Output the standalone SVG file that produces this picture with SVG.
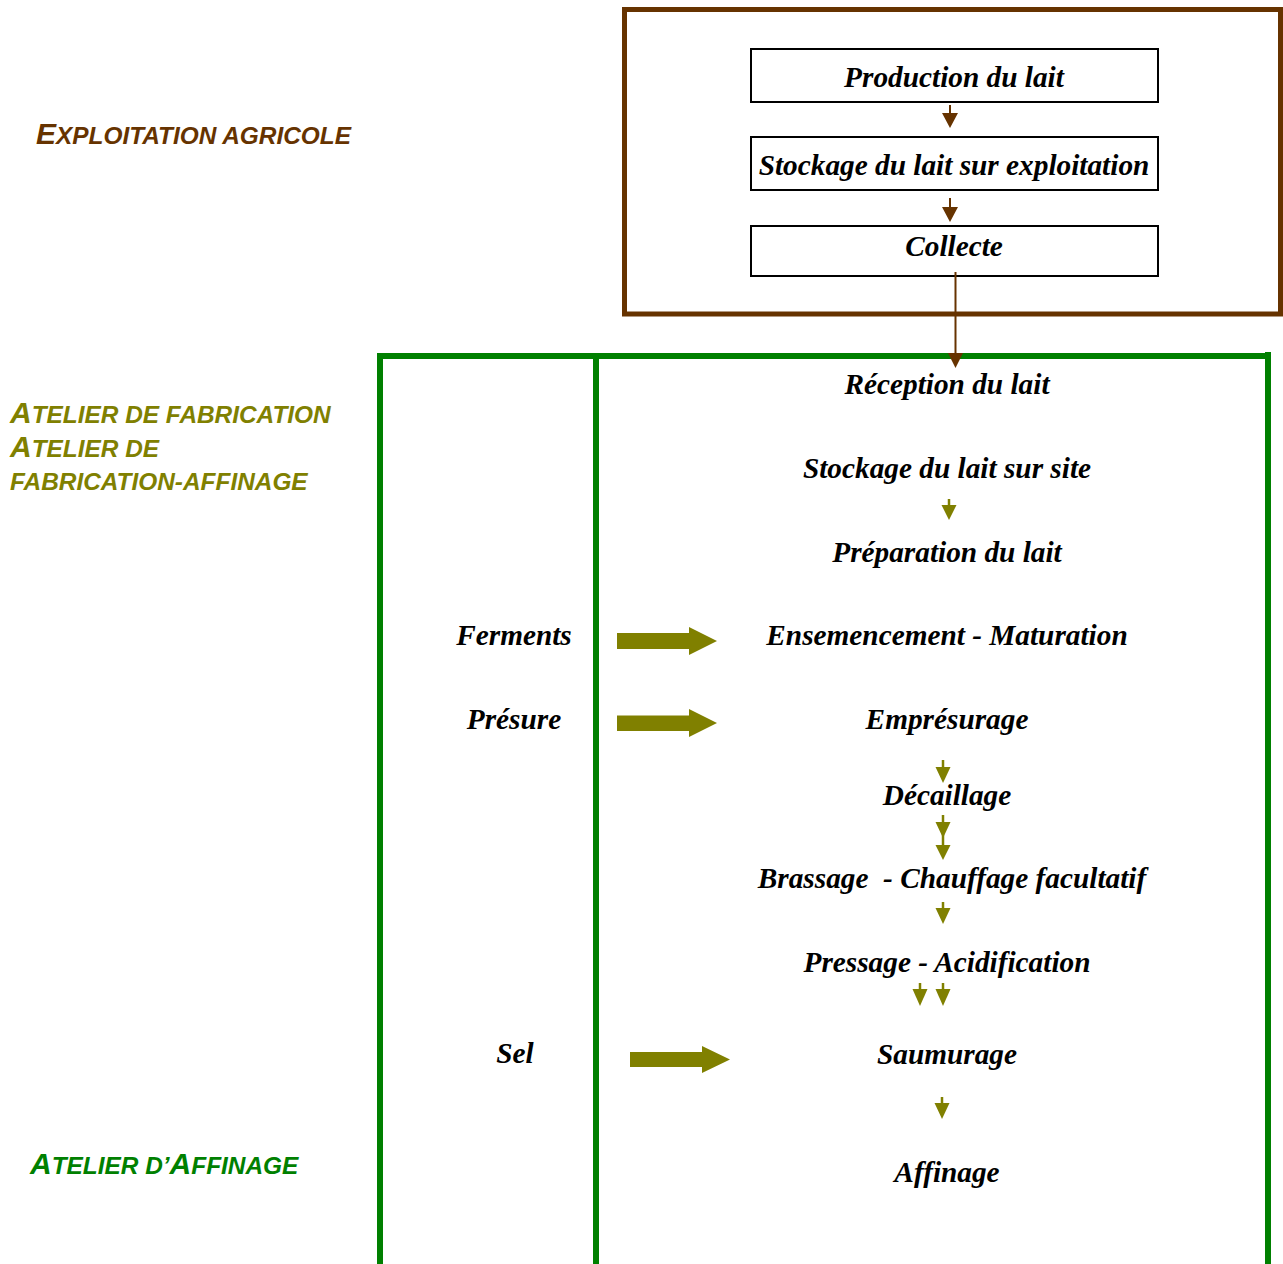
<svg xmlns="http://www.w3.org/2000/svg" width="1283" height="1264" viewBox="0 0 1283 1264">
<style>
.t{font-family:"Liberation Serif","Times New Roman",serif;font-weight:bold;font-style:italic;font-size:29.3px;fill:#000;text-anchor:middle}
.lab{font-family:"Liberation Sans",Arial,sans-serif;font-weight:bold;font-style:italic;font-size:24.4px}
.big{font-size:30px}
.box{fill:#fff;stroke:#000;stroke-width:2}
.brs{stroke:#663300;stroke-width:2;fill:none}
.brh{fill:#663300}
.ols{stroke:#808000;stroke-width:2.5;fill:none}
.olh{fill:#808000}
.grn{stroke:#008000;stroke-width:6;fill:none}
</style>
<rect width="1283" height="1264" fill="#fff"/>
<g id="frame-exploitation">
<rect x="624.5" y="9.5" width="656" height="304.5" fill="none" stroke="#663300" stroke-width="5"/>
</g>
<g id="frame-atelier">
<line class="grn" x1="377" y1="356" x2="1271" y2="356"/>
<line class="grn" x1="380" y1="353" x2="380" y2="1264"/>
<line class="grn" x1="596" y1="356" x2="596" y2="1264"/>
<line class="grn" x1="1268" y1="352" x2="1268" y2="1264"/>
</g>
<g id="label-exploitation"><text class="lab" x="36" y="144" fill="#663300"><tspan class="big">E</tspan>XPLOITATION AGRICOLE</text></g>
<g id="label-atelier-fab">
<text class="lab" x="10" y="423" fill="#808000"><tspan class="big">A</tspan>TELIER DE FABRICATION</text>
<text class="lab" x="10" y="457" fill="#808000"><tspan class="big">A</tspan>TELIER DE</text>
<text class="lab" x="10" y="490" fill="#808000">FABRICATION-AFFINAGE</text>
</g>
<g id="label-affinage"><text class="lab" x="30" y="1174" fill="#008000"><tspan class="big">A</tspan>TELIER D’<tspan class="big">A</tspan>FFINAGE</text></g>
<g id="n-production"><rect class="box" x="751" y="49" width="407" height="53"/><text class="t" x="954" y="87">Production du lait</text></g>
<g id="n-stockage-expl"><rect class="box" x="751" y="137" width="407" height="53"/><text class="t" x="954" y="175">Stockage du lait sur exploitation</text></g>
<g id="n-collecte"><rect class="box" x="751" y="226" width="407" height="50"/><text class="t" x="954" y="256">Collecte</text></g>
<g id="n-reception"><text class="t" x="947" y="394">Réception du lait</text></g>
<g id="n-stockage-site"><text class="t" x="947" y="478">Stockage du lait sur site</text></g>
<g id="n-preparation"><text class="t" x="947" y="562">Préparation du lait</text></g>
<g id="n-ensemencement"><text class="t" x="947" y="645">Ensemencement - Maturation</text></g>
<g id="n-empresurage"><text class="t" x="947" y="729">Emprésurage</text></g>
<g id="n-decaillage"><text class="t" x="947" y="805">Décaillage</text></g>
<g id="n-brassage"><text class="t" x="952" y="888" xml:space="preserve">Brassage  - Chauffage facultatif</text></g>
<g id="n-pressage"><text class="t" x="947" y="972">Pressage - Acidification</text></g>
<g id="n-saumurage"><text class="t" x="947" y="1064">Saumurage</text></g>
<g id="n-affinage"><text class="t" x="947" y="1182">Affinage</text></g>
<g id="n-ferments"><text class="t" x="514" y="645">Ferments</text></g>
<g id="n-presure"><text class="t" x="514" y="729">Présure</text></g>
<g id="n-sel"><text class="t" x="515" y="1063">Sel</text></g>
<g id="connectors">
<line class="brs" x1="950" y1="105" x2="950" y2="114"/><polygon class="brh" points="942,113 958,113 950,128"/>
<line class="brs" x1="950" y1="198" x2="950" y2="208"/><polygon class="brh" points="942,207 958,207 950,222"/>
<line class="brs" x1="955.5" y1="272" x2="955.5" y2="354"/><polygon class="brh" points="948,353 963,353 955.5,368"/>
<line class="ols" x1="949" y1="499" x2="949" y2="507"/><polygon class="olh" points="941.5,505 956.5,505 949,520"/>
<line class="ols" x1="943" y1="760" x2="943" y2="768"/><polygon class="olh" points="935.5,767 950.5,767 943,783"/>
<line class="ols" x1="943" y1="815" x2="943" y2="846"/><polygon class="olh" points="935.5,822 950.5,822 943,838"/><polygon class="olh" points="935.5,845 950.5,845 943,860"/>
<line class="ols" x1="943" y1="902" x2="943" y2="909"/><polygon class="olh" points="935.5,908 950.5,908 943,924"/>
<line class="ols" x1="920" y1="983" x2="920" y2="990"/><polygon class="olh" points="912.5,989 927.5,989 920,1006"/>
<line class="ols" x1="943" y1="983" x2="943" y2="990"/><polygon class="olh" points="935.5,989 950.5,989 943,1006"/>
<line class="ols" x1="942" y1="1097" x2="942" y2="1104"/><polygon class="olh" points="934.5,1103 949.5,1103 942,1119"/>
<polygon class="olh" points="617,633 689,633 689,627 717,641 689,655 689,649 617,649"/>
<polygon class="olh" points="617,715.5 689,715.5 689,709 717,723 689,737 689,731 617,731"/>
<polygon class="olh" points="630,1052 702,1052 702,1046 730,1059.5 702,1073 702,1067 630,1067"/>
</g>
</svg>
